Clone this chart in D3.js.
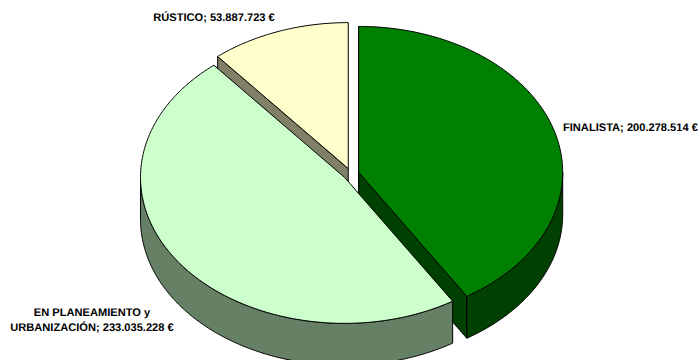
<!DOCTYPE html>
<html>
<head>
<meta charset="utf-8">
<script src="https://cdn.jsdelivr.net/npm/d3@7/dist/d3.min.js"></script>
<style>
html,body{margin:0;padding:0;background:#fff}
svg{display:block}
text{font-family:"Liberation Sans",Arial,sans-serif;font-weight:700;font-size:11.1px;fill:#000;text-rendering:geometricPrecision}
</style>
</head>
<body>
<svg id="chart" width="699" height="360"></svg>
<script>
// Land value by planning category, in euros
const categories = ["FINALISTA", "EN PLANEAMIENTO y URBANIZACIÓN", "RÚSTICO"];
const values = [200278514, 233035228, 53887723];
const topColors = ["#008000", "#CCFFCC", "#FFFFCC"];
const wallColors = ["#004000", "#668066", "#808066"];
const labelLines = [
  ["FINALISTA; 200.278.514 €"],
  ["EN PLANEAMIENTO y", "URBANIZACIÓN; 233.035.228 €"],
  ["RÚSTICO; 53.887.723 €"]
];
const labelAnchors = [[563, 131, "start"], [92, 316, "middle"], [214, 21, "middle"]];

const cx = 351, cy = 174, rx = 204, ry = 146, depth = 42, explode = 8;
const svg = d3.select("#chart");
const pieGroup = svg.append("g");

const slices = d3.pie().sort(null).value(d => d)(values).map((s, i) => {
  const mid = (s.startAngle + s.endAngle) / 2;
  return {
    ...s, i,
    ox: cx + explode * Math.sin(mid),
    oy: cy - explode * Math.cos(mid) * ry / rx
  };
});

const line = d3.line();
const point = (s, a, drop = 0) => [s.ox + rx * Math.sin(a), s.oy - ry * Math.cos(a) + drop];
const rim = (s, a0, a1, drop = 0) => {
  const n = Math.max(2, Math.ceil(Math.abs(a1 - a0) / 0.01));
  return d3.range(n + 1).map(k => point(s, a0 + (a1 - a0) * k / n, drop));
};
const apex = (s, drop = 0) => [s.ox, s.oy + drop];

function shape(g, pts, fill) {
  g.append("path").attr("d", line(pts) + "Z")
    .attr("fill", fill).attr("stroke", "#000").attr("stroke-width", 1).attr("stroke-linejoin", "round");
}

// Outer wall: the part of the rim that faces the viewer
function outerWall(g, s) {
  const a0 = Math.max(s.startAngle, Math.PI / 2);
  const a1 = Math.min(s.endAngle, Math.PI * 1.5);
  if (a1 <= a0) return;
  shape(g, rim(s, a0, a1).concat(rim(s, a1, a0, depth)), wallColors[s.i]);
}

// Cut wall running from the slice's centre out to the rim at angle a
function cutWall(g, s, a) {
  shape(g, [apex(s), point(s, a), point(s, a, depth), apex(s, depth)], wallColors[s.i]);
}

function topFace(g, s) {
  shape(g, [apex(s)].concat(rim(s, s.startAngle, s.endAngle)), topColors[s.i]);
}

const [finalista, planeamiento, rustico] = slices;

// Painted back to front
cutWall(pieGroup, rustico, rustico.startAngle);
topFace(pieGroup, rustico);
cutWall(pieGroup, finalista, finalista.startAngle);
cutWall(pieGroup, finalista, finalista.endAngle);
outerWall(pieGroup, finalista);
topFace(pieGroup, finalista);
outerWall(pieGroup, planeamiento);
topFace(pieGroup, planeamiento);

// Category labels
labelLines.forEach((lines, i) => {
  const [x, y, anchor] = labelAnchors[i];
  const t = svg.append("text").attr("text-anchor", anchor).attr("x", x).attr("y", y);
  lines.forEach((l, k) => t.append("tspan").attr("x", x).attr("dy", k ? 15 : 0).text(l));
});
</script>
</body>
</html>
